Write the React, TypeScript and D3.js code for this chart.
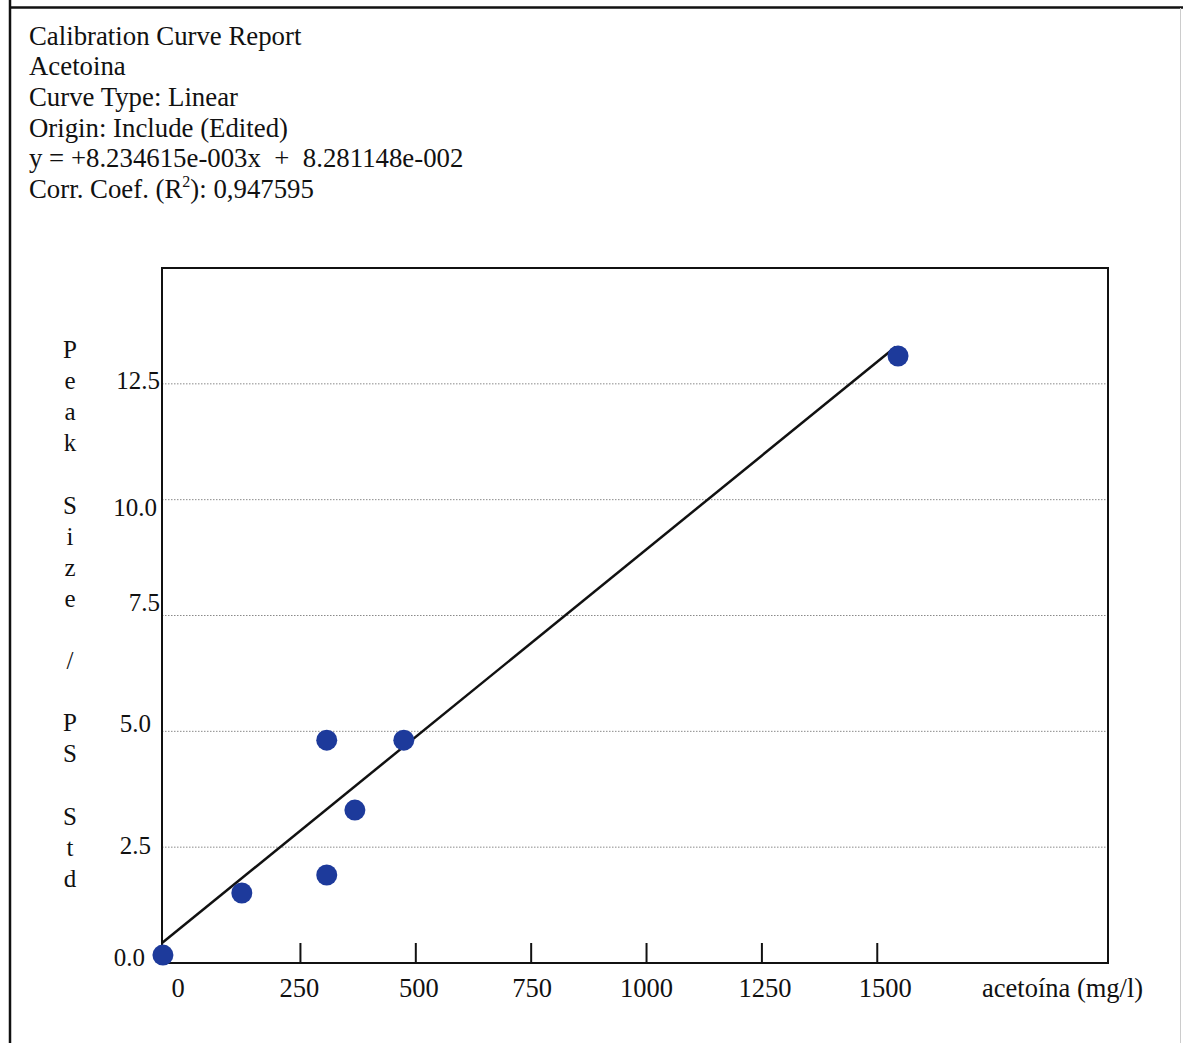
import React from 'react';
import * as d3 from 'd3';

// header lines of the report
const headerLines = [
  'Calibration Curve Report',
  'Acetoina',
  'Curve Type: Linear',
  'Origin: Include (Edited)',
  'y = +8.234615e-003x  +  8.281148e-002',
];

// calibration points
const pointX = [-48, 123, 307, 307, 368, 474, 1545];
const pointY = [0.17, 1.51, 1.9, 4.81, 3.3, 4.81, 13.1];

// ends of the fitted line as drawn
const fitX = [-50, 1540];
const fitY = [0.43, 13.3];

const xTicks = [250, 500, 750, 1000, 1250, 1500];
const xTickLabels = [0, 250, 500, 750, 1000, 1250, 1500];
const yTicks = [2.5, 5.0, 7.5, 10.0, 12.5];
const yTickLabels = [0, 2.5, 5.0, 7.5, 10.0, 12.5];

const yTitle = 'Peak Size / PS Std';

const W = 1183;
const H = 1043;
const FONT = '"Liberation Serif", "Times New Roman", serif';
// the scan's labels are not quite aligned to the ticks
const yLabelRight = [145, 151, 151, 160, 157, 160];
const yLabelShift = [-3, 1, -5, -10, 11, 0];
const xLabelShift = [-7, -1, 3, 1, 0, 3, 8];

export default function App() {
  const x = d3.scaleLinear().domain([-50, 2000]).range([162, 1108]);
  const y = d3.scaleLinear().domain([0, 15]).range([963, 268]);
  const line = d3.line<number>()
    .x(d => x(fitX[d]))
    .y(d => y(fitY[d]));

  const [x0, x1] = x.range();
  const [y0, y1] = y.range();

  return (
    <svg width={W} height={H} style={{position: 'absolute', left: 0, top: 0, background: '#fff'}}
      fontFamily={FONT} fontSize={25}>
      {/* report frame */}
      <line x1={10} y1={0} x2={10} y2={H} stroke="#111" strokeWidth={2.5}/>
      <line x1={9} y1={7.5} x2={W} y2={7.5} stroke="#111" strokeWidth={2.5}/>
      <line x1={1180.5} y1={8} x2={1180.5} y2={H} stroke="#ccc" strokeWidth={1}/>

      {/* header */}
      <g fill="#111" fontSize={26.8}>
        {headerLines.map((t, i) => (
          <text key={i} x={29} y={44.5 + i * 30.7} xmlSpace="preserve">{t}</text>
        ))}
        <text x={29} y={44.5 + 5 * 30.7}>
          Corr. Coef. (R<tspan fontSize={16} dy={-11}>2</tspan><tspan dy={11}>): 0,947595</tspan>
        </text>
      </g>

      {/* grid */}
      <g className="grid">
        {yTicks.map(t => (
          <line key={t} x1={x0} x2={x1} y1={y(t)} y2={y(t)}
            stroke="#8a8a8a" strokeWidth={1} strokeDasharray="1.5,1.5"/>
        ))}
      </g>

      {/* plot frame */}
      <rect x={x0} y={y1} width={x1 - x0} height={y0 - y1} fill="none" stroke="#111" strokeWidth={2}/>

      {/* x ticks */}
      <g className="ticks">
        {xTicks.map(t => (
          <line key={t} x1={x(t)} x2={x(t)} y1={y0} y2={y0 - 20} stroke="#111" strokeWidth={2}/>
        ))}
      </g>

      {/* tick labels */}
      <g fill="#111">
        {xTickLabels.map((t, i) => (
          <text key={t} x={x(t) + xLabelShift[i]} y={997} textAnchor="middle" fontSize={26.5}>{t}</text>
        ))}
        {yTickLabels.map((t, i) => (
          <text key={t} x={yLabelRight[i]} y={y(t) + 5.5 + yLabelShift[i]} textAnchor="end">{t.toFixed(1)}</text>
        ))}
        <text x={982} y={997} fontSize={26.5}>acetoína (mg/l)</text>
      </g>

      {/* y title, one letter per line */}
      <g fill="#111">
        {yTitle.split('').map((c, i) => (
          <text key={i} x={70} y={358 + i * 31.1} textAnchor="middle">{c}</text>
        ))}
      </g>

      {/* fitted line */}
      <path d={line([0, 1]) || ''} fill="none" stroke="#111" strokeWidth={2.5}/>

      {/* points */}
      <g className="points">
        {pointX.map((px, i) => (
          <circle key={i} cx={x(px)} cy={y(pointY[i])} r={10.5} fill="#1d3a9b"/>
        ))}
      </g>
    </svg>
  );
}
